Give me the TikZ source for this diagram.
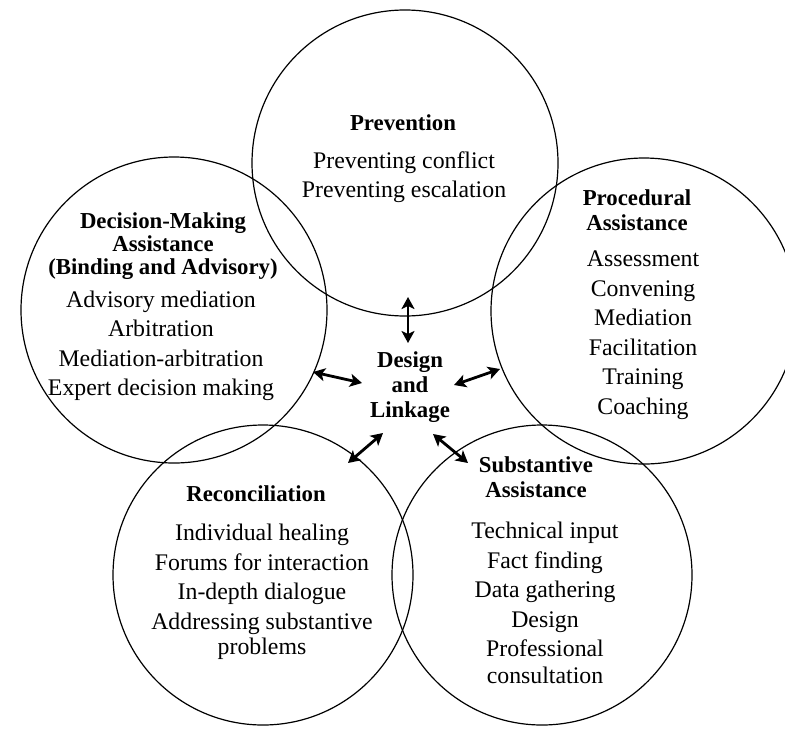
\documentclass[tikz,border=0pt]{standalone}
\usepackage{fontspec}
\setmainfont{Liberation Serif}
\usetikzlibrary{arrows.meta}
\begin{document}
\begin{tikzpicture}[x=0.5pt,y=-0.5pt,
  ring/.style={circle, draw, line width=0.6pt, inner sep=0pt, outer sep=0pt},
  head/.style={font=\fontsize{11.4}{12.5}\selectfont\bfseries, align=center, inner sep=0pt},
  items/.style={font=\fontsize{11.9}{14.75}\selectfont, align=center, inner sep=0pt},
  link/.style={{Stealth[length=6pt,width=6.5pt,inset=1.5pt]}-{Stealth[length=6pt,width=6.5pt,inset=1.5pt]}, line width=1.4pt}
]
\useasboundingbox (0,0) rectangle (785,728);
\clip (0,0) rectangle (785,728);

% the five overlapping circles
\node[ring, minimum size=153pt] (prev) at (405,163) {};
\node[ring, minimum size=153pt] (dec)  at (174,310) {};
\node[ring, minimum size=153pt] (proc) at (644,311) {};
\node[ring, minimum size=150pt] (reco) at (263,575) {};
\node[ring, minimum size=150pt] (subs) at (542,575) {};

% Prevention
\node[head] (prevt) at (403,123) {Prevention};
\node[items] (prevb) at (404,177) {Preventing conflict\\Preventing escalation};

% Decision-making assistance
\node[head, font=\fontsize{11.4}{11.4}\selectfont\bfseries] (dect) at (163,246)
  {Decision-Making\\Assistance\\(Binding and Advisory)};
\node[items] (decb) at (161,346)
  {Advisory mediation\\Arbitration\\Mediation-arbitration\\Expert decision making};

% Procedural assistance
\node[head] (proct) at (637,210) {Procedural\\Assistance};
\node[items] (procb) at (643,335)
  {Assessment\\Convening\\Mediation\\Facilitation\\Training\\Coaching};

% Reconciliation
\node[head] (recot) at (256,494) {Reconciliation};
\node[items] (recob) at (262,592)
  {Individual healing\\Forums for interaction\\In-depth dialogue\\Addressing substantive\\[-2.25pt]problems};

% Substantive assistance
\node[head] (subt) at (536,477) {Substantive\\Assistance};
\node[items] (subb) at (545,603)
  {Technical input\\Fact finding\\Data gathering\\Design\\Professional\\[-1.25pt]consultation};

% hub
\node[head] (hub) at (410,387) {Design\\and\\Linkage};

% arrow end points
\coordinate (tA) at (408,297);
\coordinate (tB) at (408,343);
\coordinate (lA) at (313,372);
\coordinate (lB) at (362,383);
\coordinate (rA) at (454,385);
\coordinate (rB) at (500,369);
\coordinate (blA) at (383,433);
\coordinate (blB) at (348,463);
\coordinate (brA) at (433,434);
\coordinate (brB) at (468,463);

\draw[link] (tA) -- (tB);
\draw[link] (lA) -- (lB);
\draw[link] (rA) -- (rB);
\draw[link] (blA) -- (blB);
\draw[link] (brA) -- (brB);
\end{tikzpicture}
\end{document}
